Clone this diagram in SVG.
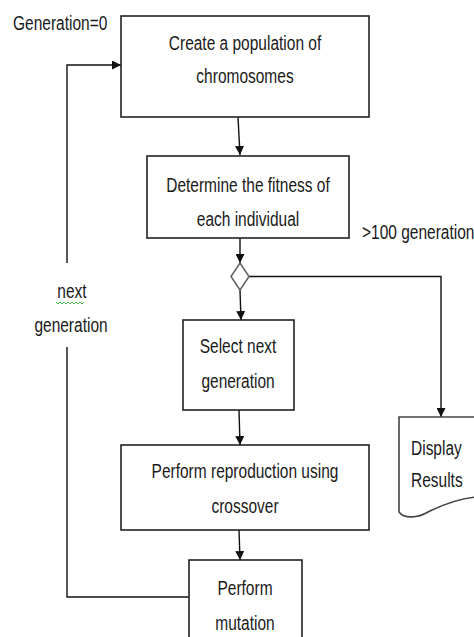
<svg xmlns="http://www.w3.org/2000/svg" width="474" height="637" viewBox="0 0 474 637">
<style>
.box{fill:#fff;stroke:#222;stroke-width:1.6}
.ln{fill:none;stroke:#111;stroke-width:1.4}
text{font-family:"Liberation Sans",Arial,sans-serif;font-size:15.5px;fill:#1a1a1a}
.c{text-anchor:middle}
</style>
<defs>
<marker id="ah2" viewBox="0 0 10 10" refX="10" refY="5" markerWidth="9" markerHeight="9" markerUnits="userSpaceOnUse" orient="auto">
<path d="M0,0 L10,5 L0,10 z" fill="#111"/>
</marker>
</defs>
<g id="connectors">
<line class="ln" x1="238" y1="117" x2="240" y2="155" marker-end="url(#ah2)"/>
<line class="ln" x1="240" y1="238" x2="240" y2="263" marker-end="url(#ah2)"/>
<line class="ln" x1="240" y1="290" x2="241" y2="320" marker-end="url(#ah2)"/>
<line class="ln" x1="239" y1="410" x2="240" y2="445" marker-end="url(#ah2)"/>
<line class="ln" x1="239" y1="530" x2="240" y2="560" marker-end="url(#ah2)"/>
<polyline class="ln" points="249,276.5 441,276.5 441,417" marker-end="url(#ah2)"/>
<polyline class="ln" points="189,597 67,597 67,347"/>
<polyline class="ln" points="67,263 67,65 121,65" marker-end="url(#ah2)"/>
</g>
<g id="label-gen0"><text transform="translate(13,30) scale(1,1.25)">Generation=0</text></g>
<g id="label-next">
<text class="c" transform="translate(72,298) scale(1,1.25)">next</text>
<path d="M56,302 l2,2 l2,-2 l2,2 l2,-2 l2,2 l2,-2 l2,2 l2,-2 l2,2 l2,-2 l2,2 l2,-2 l2,2 l2,-2" fill="none" stroke="#3a3" stroke-width="0.9"/>
<text class="c" transform="translate(71,332) scale(1,1.25)">generation</text>
</g>
<g id="label-100"><text transform="translate(362,239) scale(1,1.25)">&gt;100 generation</text></g>
<g id="n-create">
<rect class="box" x="121" y="16" width="248" height="101"/>
<text class="c" transform="translate(245,50) scale(1,1.25)">Create a population of</text>
<text class="c" transform="translate(245,83) scale(1,1.25)">chromosomes</text>
</g>
<g id="n-fitness">
<rect class="box" x="147" y="156" width="202" height="82"/>
<text class="c" transform="translate(248,192) scale(1,1.25)">Determine the fitness of</text>
<text class="c" transform="translate(248,226) scale(1,1.25)">each individual</text>
</g>
<g id="n-decision">
<path d="M240,263 L249,276.5 L240,290 L231,276.5 Z" fill="#fff" stroke="#666" stroke-width="1.6"/>
</g>
<g id="n-select">
<rect class="box" x="183" y="320" width="111" height="90"/>
<text class="c" transform="translate(238,353) scale(1,1.25)">Select next</text>
<text class="c" transform="translate(238,388) scale(1,1.25)">generation</text>
</g>
<g id="n-reproduce">
<rect class="box" x="121" y="445" width="248" height="85"/>
<text class="c" transform="translate(245,478) scale(1,1.25)">Perform reproduction using</text>
<text class="c" transform="translate(245,513) scale(1,1.25)">crossover</text>
</g>
<g id="n-mutation">
<rect class="box" x="189" y="560" width="113" height="90"/>
<text class="c" transform="translate(245,595) scale(1,1.25)">Perform</text>
<text class="c" transform="translate(245,630) scale(1,1.25)">mutation</text>
</g>
<g id="n-display">
<path d="M399,417 L476,417 L476,497 C455,499 440,506 428,512 C418,518 404,519 399,512 Z" fill="#fff" stroke="#444" stroke-width="1.6"/>
<text transform="translate(411,455) scale(1,1.25)">Display</text>
<text transform="translate(411,487) scale(1,1.25)">Results</text>
</g>
</svg>
